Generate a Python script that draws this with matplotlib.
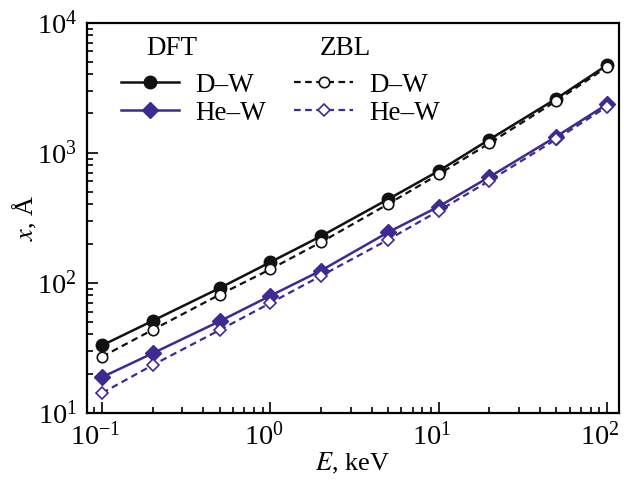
import numpy as np
import matplotlib
matplotlib.use('Agg')
import matplotlib.pyplot as plt
import matplotlib.transforms as mtransforms
from matplotlib.lines import Line2D

plt.rcParams['font.family'] = ['Liberation Serif', 'DejaVu Serif']
plt.rcParams['mathtext.fontset'] = 'stix'

# Energia (keV) e alcance medio (Angstrom)
energia = [0.1, 0.2, 0.5, 1, 2, 5, 10, 20, 50, 100]
dft_dw = [33, 51, 91, 144, 228, 438, 723, 1260, 2600, 4700]
zbl_dw = [27, 43.5, 81, 127, 205, 402, 682, 1180, 2495, 4550]
dft_hew = [18.8, 28.7, 50.6, 79.4, 124, 244, 385, 650, 1330, 2350]
zbl_hew = [14.2, 23.3, 43.3, 69.8, 113, 214, 357, 607, 1268, 2256]

preto = '#111111'
azul = '#3b2b92'

fig = plt.figure(figsize=(6.24, 4.8), dpi=100)
ax = fig.add_axes([0.139, 0.140, 0.853, 0.813])

ax.plot(energia, dft_dw, '-', color=preto, lw=1.8, marker='o', ms=9,
        mfc=preto, mec=preto)
ax.plot(energia, zbl_dw, '--', color=preto, lw=1.6, dashes=(3, 2), marker='o', ms=7.5,
        mfc='white', mec=preto, mew=1.2)
ax.plot(energia, dft_hew, '-', color=azul, lw=1.8, marker='D', ms=8,
        mfc=azul, mec=azul)
ax.plot(energia, zbl_hew, '--', color=azul, lw=1.6, dashes=(3, 2), marker='D', ms=6.5,
        mfc='white', mec=azul, mew=1.2)

ax.set_xscale('log')
ax.set_yscale('log')
ax.set_xlim(0.081, 118)
ax.set_ylim(10, 1e4)

ax.tick_params(which='both', direction='in', top=False, right=False,
               labelsize=20.5, width=1.2)
ax.tick_params(which='major', length=8, pad=7)
ax.tick_params(which='minor', length=4.5)
for s in ax.spines.values():
    s.set_linewidth(1.6)

# desloca um pouco os rotulos do eixo x para a esquerda
desloc = mtransforms.ScaledTranslation(-5 / 72, 0, fig.dpi_scale_trans)
for rot in ax.get_xticklabels():
    rot.set_transform(rot.get_transform() + desloc)

ax.set_xlabel(r'$E$, keV', fontsize=19, labelpad=0)
ax.set_ylabel(r'$x$, Å', fontsize=19)
ax.yaxis.set_label_coords(-0.09, 0.5)

# legenda em duas colunas com titulos
handles = [
    Line2D([], [], color=preto, lw=1.8, marker='o', ms=9, mfc=preto),
    Line2D([], [], color=azul, lw=1.8, marker='D', ms=8, mfc=azul),
    Line2D([], [], color=preto, lw=1.6, ls='--', dashes=(3, 2), marker='o', ms=7.5,
           mfc='white', mew=1.2),
    Line2D([], [], color=azul, lw=1.6, ls='--', dashes=(3, 2), marker='D', ms=6.5,
           mfc='white', mew=1.2),
]
rotulos = ['D–W', 'He–W', 'D–W', 'He–W']
ax.legend(handles, rotulos, ncol=2, frameon=False, fontsize=19.5,
          loc='upper left', bbox_to_anchor=(0.064, 0.872), borderaxespad=0,
          borderpad=0, handlelength=2.15, handletextpad=0.6,
          columnspacing=1.05, labelspacing=0.12)
ax.text(0.16, 0.933, 'DFT', transform=ax.transAxes, fontsize=19.5,
        ha='center', va='center')
ax.text(0.485, 0.933, 'ZBL', transform=ax.transAxes, fontsize=19.5,
        ha='center', va='center')

fig.savefig('out.png', dpi=100)
